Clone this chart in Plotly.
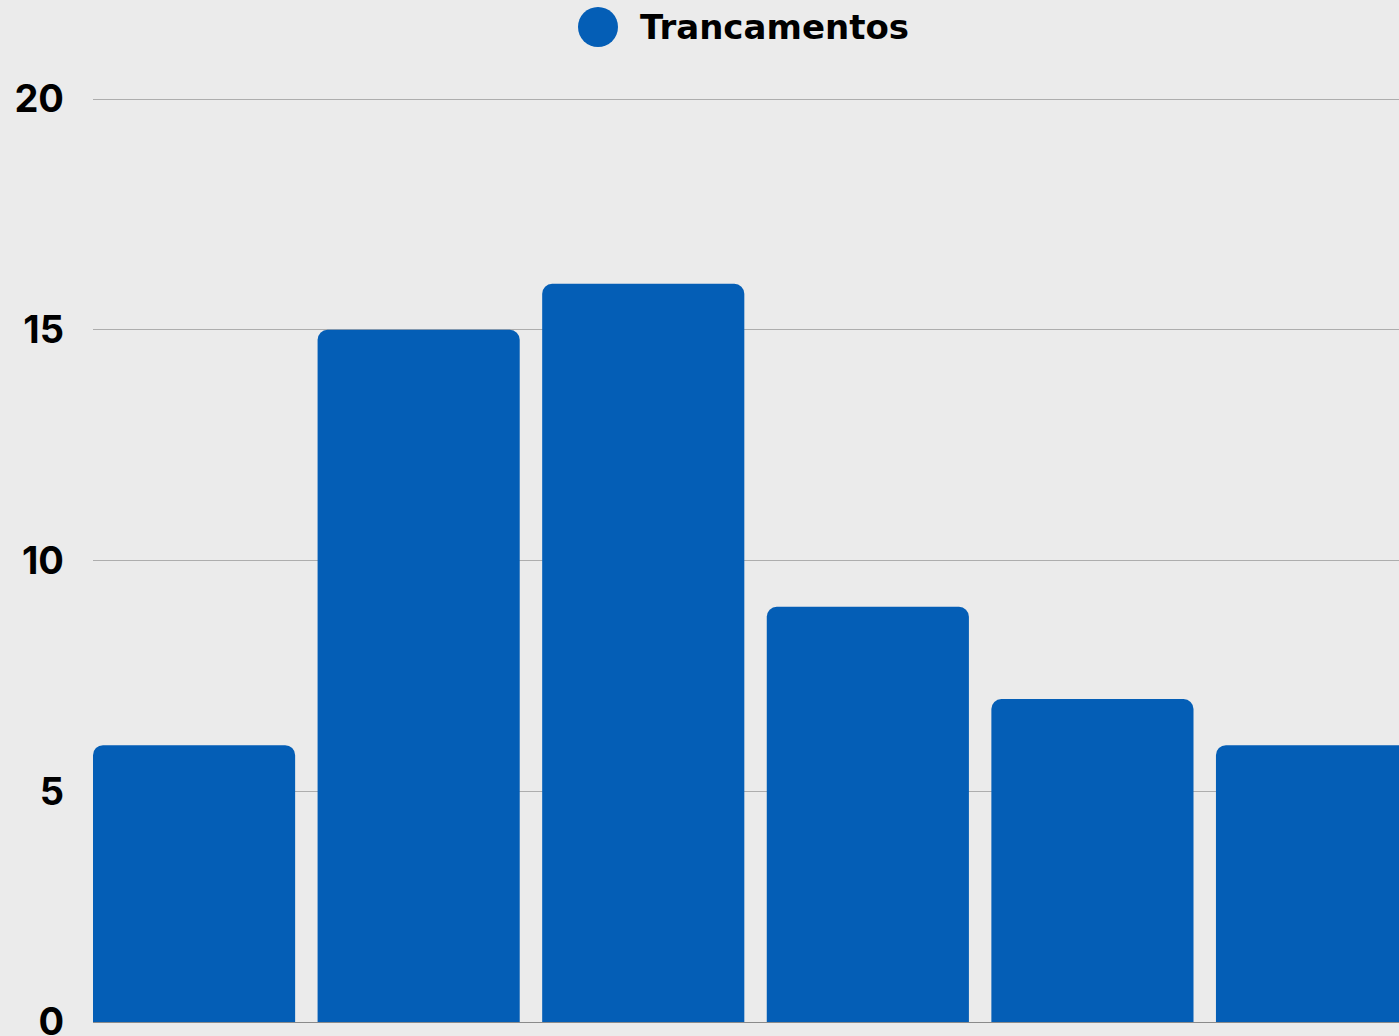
import plotly.graph_objects as go

# Data
categories = ["1", "2", "3", "4", "5", "6"]
trancamentos = [6, 15, 16, 9, 7, 6]
series_name = "Trancamentos"
y_ticks = [0, 5, 10, 15, 20]

BAR_COLOR = "#045EB6"
BG_COLOR = "#EBEBEB"
TICK_FONT = "Inter, 'Liberation Sans', Arial, sans-serif"
LEGEND_FONT = "'DejaVu Sans', Inter, sans-serif"

fig = go.Figure()
fig.add_trace(
    go.Bar(
        x=list(range(len(categories))),
        y=trancamentos,
        name=series_name,
        marker=dict(color=BAR_COLOR, cornerradius=10, line=dict(width=0)),
        width=0.9,
        showlegend=False,
        hoverinfo="y",
    )
)

W, H = 1399, 1036
ML, MR, MT, MB = 93, 0, 53, 14
plot_w = W - ML - MR
plot_h = H - MT - MB


def px_x(p):
    return (p - ML) / plot_w


def px_y(p):
    return (H - MB - p) / plot_h


# Legend: a large dot followed by the series name
legend_y = px_y(27)
fig.add_shape(
    type="circle",
    xref="paper", yref="paper",
    xsizemode="pixel", ysizemode="pixel",
    xanchor=px_x(598), yanchor=legend_y,
    x0=-20, x1=20, y0=-20, y1=20,
    fillcolor=BAR_COLOR, line=dict(width=0),
)
fig.add_annotation(
    text=f"<b>{series_name}</b>",
    xref="paper", yref="paper",
    x=px_x(638), y=legend_y,
    xanchor="left", yanchor="middle",
    showarrow=False,
    font=dict(family=LEGEND_FONT, size=34, color="#000000"),
)

fig.update_layout(
    width=W, height=H,
    margin=dict(l=ML, r=MR, t=MT, b=MB, pad=0, autoexpand=False),
    paper_bgcolor=BG_COLOR,
    plot_bgcolor=BG_COLOR,
    font=dict(family=TICK_FONT, color="#000000"),
    bargap=0.1,
    showlegend=False,
    xaxis=dict(
        range=[-0.45, 5.365],
        showticklabels=False,
        showgrid=False,
        zeroline=False,
        showline=False,
        ticks="",
        automargin=False,
        fixedrange=True,
    ),
    yaxis=dict(
        range=[0, 21],
        tickvals=y_ticks,
        ticktext=[f"<b>{v}</b>" for v in y_ticks],
        tickfont=dict(family=TICK_FONT, size=38, color="#000000"),
        ticklabeloverflow="allow",
        showgrid=True,
        gridcolor="#ADADAD",
        gridwidth=1,
        zeroline=True,
        zerolinecolor="#8A8A8A",
        zerolinewidth=1,
        showline=False,
        ticks="",
        ticklabelstandoff=28,
        automargin=False,
        fixedrange=True,
    ),
)

fig.write_html("out.html")
